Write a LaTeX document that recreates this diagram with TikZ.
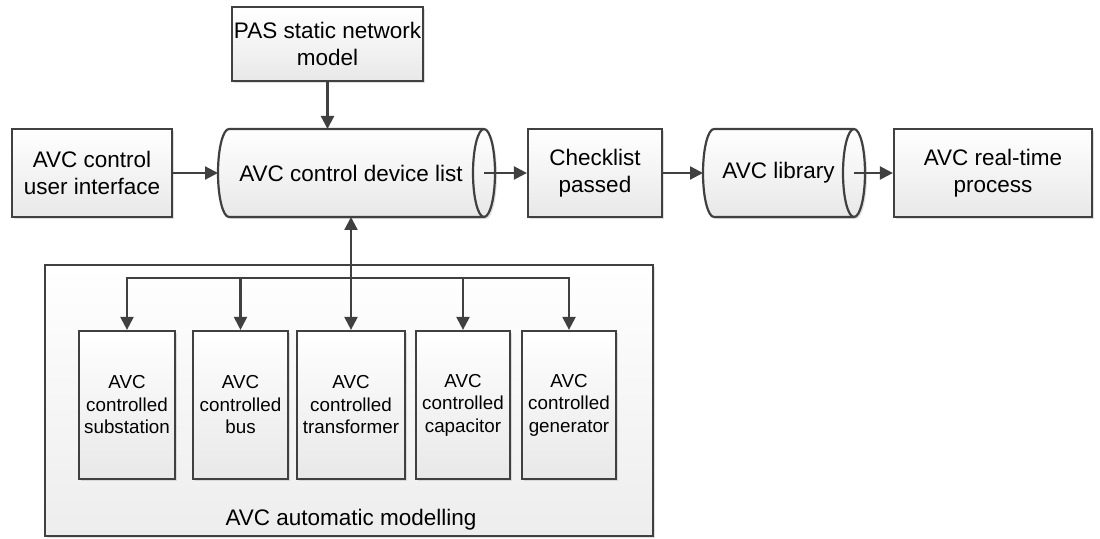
\documentclass[tikz,border=0pt]{standalone}
\usepackage{fontspec}
\setmainfont{Liberation Sans}
\usetikzlibrary{arrows.meta,shadows}
\definecolor{ln}{HTML}{404040}
\tikzset{
  box/.style={draw=ln, line width=2.2pt, top color=white, bottom color=black!9,
    inner sep=0pt, align=center, font=\fontsize{22.5}{27}\selectfont,
    drop shadow={shadow xshift=2pt, shadow yshift=-2pt, fill=black!25, opacity=.5}},
  small/.style={box, font=\fontsize{18.8}{22.5}\selectfont, minimum height=148pt},
  grp/.style={draw=ln, line width=2.2pt, top color=white, bottom color=black!7, inner sep=0pt,
    drop shadow={shadow xshift=2pt, shadow yshift=-2pt, fill=black!25, opacity=.5}},
  lbl/.style={inner sep=0pt, align=center, font=\fontsize{22.5}{27}\selectfont},
  conn/.style={draw=ln, line width=2.2pt, -{Triangle[length=13pt,width=13pt]}},
  conn2/.style={draw=ln, line width=2.2pt, {Triangle[length=13pt,width=13pt]}-{Triangle[length=13pt,width=13pt]}},
  cyl/.style={draw=ln, line width=2.2pt, top color=white, bottom color=black!9},
  cylshadow/.style={fill=black!25, opacity=.5}
}
\begin{document}
\begin{tikzpicture}[x=1pt,y=1pt]
\useasboundingbox (0,0) rectangle (1100,538);
% group box
\node[grp, minimum width=608pt, minimum height=271pt] (grp) at (349,137.5) {};
\node[lbl] (grplbl) at (351,18) {AVC automatic modelling};
% top boxes
\node[box, minimum width=191pt, minimum height=74pt] (pas) at (327.5,494) {PAS static network\\model};
\node[box, minimum width=160pt, minimum height=88pt] (ui) at (92,365) {AVC control\\user interface};
\node[box, minimum width=134pt, minimum height=88pt] (chk) at (595,365) {Checklist\\passed};
\node[box, minimum width=198pt, minimum height=88pt] (rt) at (993,365) {AVC real-time\\process};
% cylinder: device list
\fill[cylshadow] (231,407) -- (486,407) arc[start angle=90,end angle=-90,x radius=11pt,y radius=44pt] -- (231,319) arc[start angle=270,end angle=90,x radius=11pt,y radius=44pt] -- cycle;
\draw[cyl] (229,409) -- (484,409) arc[start angle=90,end angle=-90,x radius=11pt,y radius=44pt] -- (229,321) arc[start angle=270,end angle=90,x radius=11pt,y radius=44pt] -- cycle;
\draw[draw=ln, line width=2.2pt] (484,409) arc[start angle=90,end angle=270,x radius=11pt,y radius=44pt];
\node[lbl] (dev) at (351,365) {AVC control device list};
\coordinate (devL) at (218,365);
\coordinate (devR) at (484,365);
\coordinate (devT) at (327.5,409);
\coordinate (devB) at (351,321);
% cylinder: library
\fill[cylshadow] (716,407) -- (856,407) arc[start angle=90,end angle=-90,x radius=11pt,y radius=44pt] -- (716,319) arc[start angle=270,end angle=90,x radius=11pt,y radius=44pt] -- cycle;
\draw[cyl] (714,409) -- (854,409) arc[start angle=90,end angle=-90,x radius=11pt,y radius=44pt] -- (714,321) arc[start angle=270,end angle=90,x radius=11pt,y radius=44pt] -- cycle;
\draw[draw=ln, line width=2.2pt] (854,409) arc[start angle=90,end angle=270,x radius=11pt,y radius=44pt];
\node[lbl] (lib) at (778.5,365) {AVC library};
\coordinate (libL) at (703,365);
\coordinate (libR) at (854,365);
% inner boxes
\node[small, minimum width=96pt] (sub) at (127,133) {AVC\\controlled\\substation};
\node[small, minimum width=95pt] (bus) at (240.5,133) {AVC\\controlled\\bus};
\node[small, minimum width=108pt] (tr) at (351,133) {AVC\\controlled\\transformer};
\node[small, minimum width=94pt] (cap) at (463,133) {AVC\\controlled\\capacitor};
\node[small, minimum width=94pt] (gen) at (569,133) {AVC\\controlled\\generator};
% connectors
\draw[conn] (pas.south) -- (devT);
\draw[conn] (ui.east) -- (devL);
\draw[conn] (devR) -- (chk.west);
\draw[conn] (chk.east) -- (libL);
\draw[conn] (libR) -- (rt.west);
\draw[conn2] (devB) -- (tr.north);
\coordinate (br) at (351,260);
\draw[conn] (br) -| (sub.north);
\draw[conn] (br) -| (bus.north);
\draw[conn] (br) -| (cap.north);
\draw[conn] (br) -| (gen.north);
\end{tikzpicture}
\end{document}
